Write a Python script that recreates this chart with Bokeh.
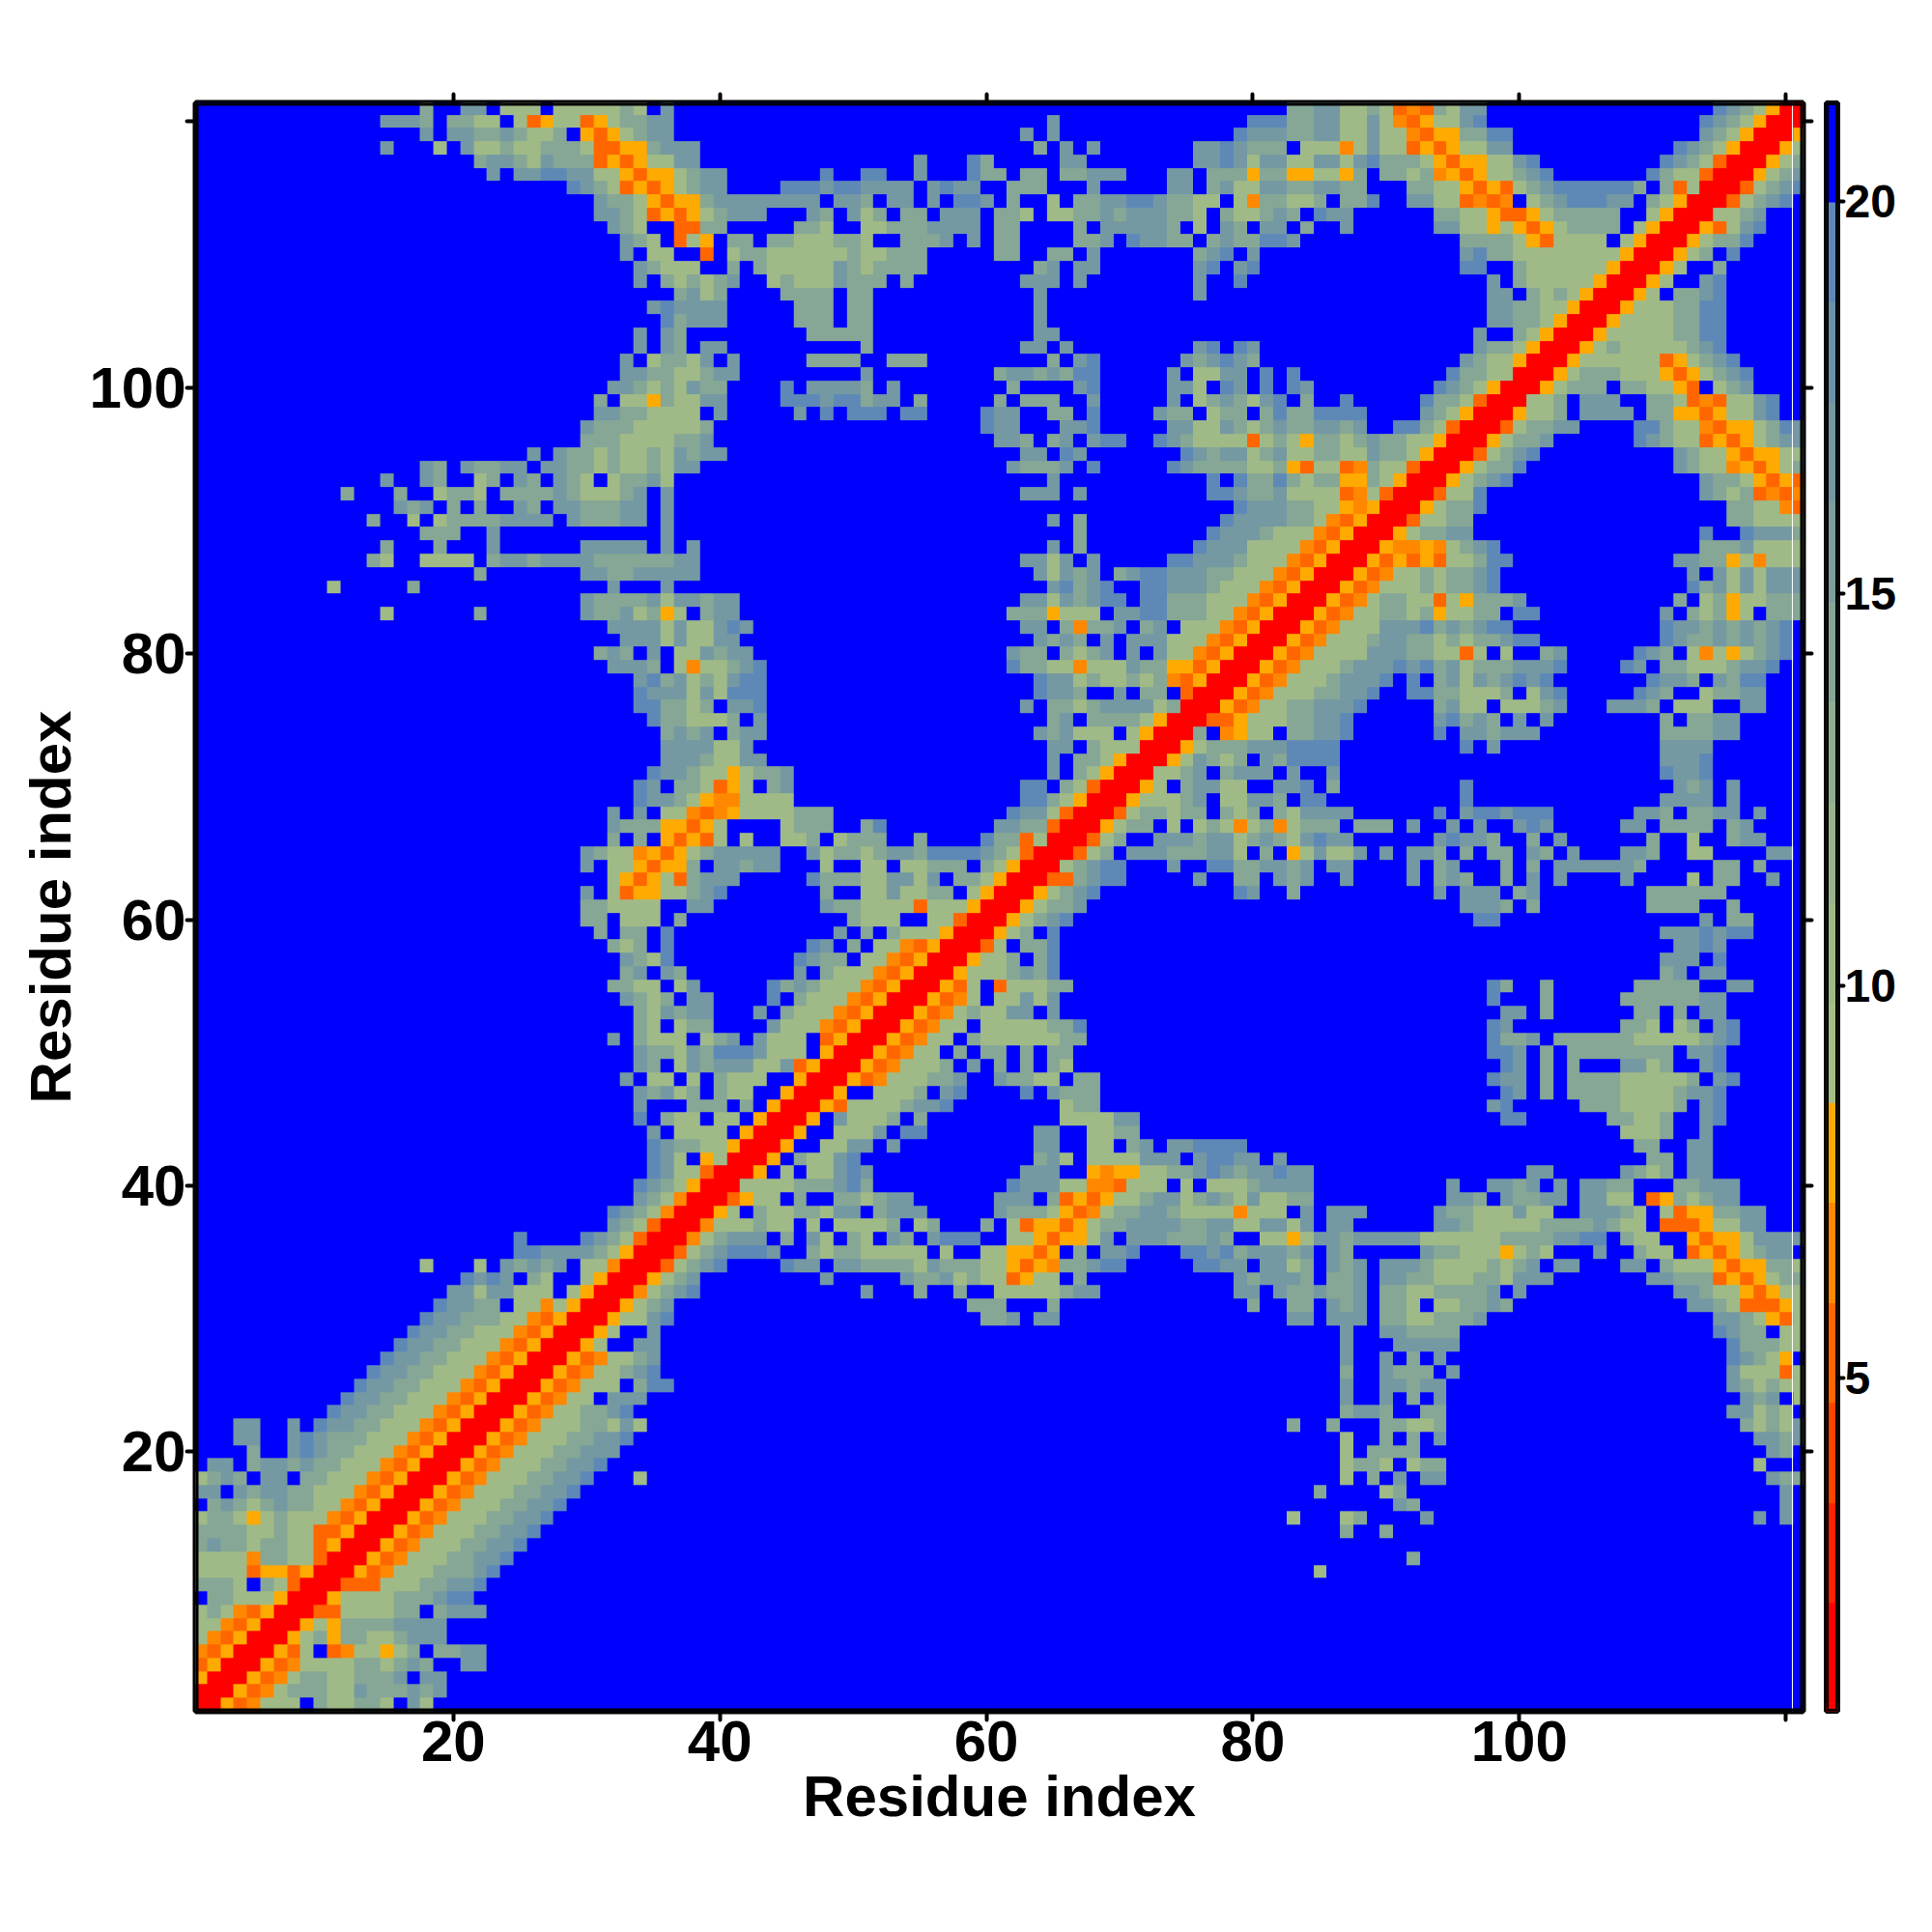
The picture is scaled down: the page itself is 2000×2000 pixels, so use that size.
import numpy as np
from bokeh.plotting import figure
from bokeh.layouts import row
from bokeh.models import LinearColorMapper, LinearAxis, FixedTicker, Range1d, BoxAnnotation
from bokeh.embed import file_html
from bokeh.resources import INLINE

# Palette steps of the reference colour bar, low to high distance
bar_low = 0.85
bar_high = 21.25
bar_floor = 0.75
palette = ["#FF0000", "#FF2200", "#FF4400", "#FF6600", "#FF8800", "#FFAA00",
           "#A5BE83", "#A0BA87", "#98B48C", "#8FAE90", "#86A795", "#7D9F9C",
           "#7499A3", "#6B92AB", "#5E89B6", "#0000FF"]
level_values = {"R": 1.5, "O": 5.3, "o": 6.5, "a": 7.8, "g": 10.4, "t": 13.9,
                "s": 17.0, "b": 19.3, ".": 21.0}
n_residues = 121
tick_values = [20, 40, 60, 80, 100, 120]
bar_ticks = [5, 10, 15, 20]

# Lower triangle, "first_column:cells" per row (rows 1..121)
contact_rows = [
"1:RRaOoggg.tggttg.sg",
"2:RRaOogtttggstttsts",
"3:RRaOogttggttts.ss",
"4:RRaOoggggttgtst..ss",
"5:RRaOg.Ooggagt.ttss",
"6:RRagtattggtsss",
"7:RRagattttssss",
"8:RROOggggtt.tsss",
"9:RRaggggtttsbb",
"10:RROOOgggttssb",
"11:RRaOogggtttsb 85:g",
"12:RRaOogggttssb 92:t",
"13:RRaOogggttssb",
"14:RRaOogggttssb 87:t 90:t",
"15:RRaOogggttssb 83:g 87:gt 93:s 118:s 120:s",
"16:RRaOogggttssb 91:st 120:s",
"17:RRaOogggttssb 85:t 90:gt 120:s",
"18:RRaOogggttssb 34:g 87:g.t 91:s 93:ss 119:stt",
"19:RRaOogggttssb 87:gttg.gtt 118:g",
"20:RRaOogggttsss 87:g 89:tttt 119:st",
"21:RRaOogggttssb 87:g 90:t.t 94:s 118:ssts",
"22:RRaOogggttgsg 83:t 86:t 90:ttggt 117:tgtgs",
"23:RRaOoggttsb 87:tsst..tt 116:ssgtg",
"24:RRaOogg.sss 87:s 90:s.t.s 117:sts.g",
"25:RRaOoggg.tbb 87:s 90:sstss 116:stgtgg",
"26:RRaOoggtsb 87:t 90:sttt.s 116:sgggOg",
"27:RRaOoggts 87:s 90:s.t.s 116:bstga.",
"28:RRag..ss 87:s 91:sssss 116:btttgg",
"29:RRag..s 87:s 90:sstttt 115:bstt.gg",
"30:RRaggsb 60:tts.ss 83:ss 86:sss 90:ttggttts 115:sstgaOg",
"31:RRagts 59:ttt...t 80:t 83:tt.sts.ttg.ggttst 113:sstgOOOag",
"32:RRogtsb 51:s 55:t 58:t 61:gggggtss 79:ss.sttstts.ttggtttts.s 112:sstggaOagg",
"33:RRagts 48:s 54:sttsgtggOagg.t 79:stssst.tts.ssttgggttgsss 110:sstttOaOagtt",
"34:RROgtsb 45:bss.ssttttgstttggaOaottsbb 76:bbss.ssgt.sts.ssstggggtgts.ss 108:ss.tgggaOaattg",
"35:RROgtsbbbs..tgttggggg.g..ggaaOa.t.ssb 75:bbsbtsssts.st.....sttgggagtg...s..tgg.OaOagtss",
"36:RRogtsss.t.sg.tg.st.sbbb..ggaOaags.ssstttst..ggagsstsssssggggggttttssbb.tgg..aOaagssss",
"37:RRogggtgg.g.ggggt.gt 60:t.gOaaOagttssssttssggssgs 86:ss 94:sstgggggttttstgg.OOOaggss",
"38:RRag.tggttgss.tsss 61:stttgaOogttsstggggoggg.s 86:sss 94:sttgggsgg 105:ssstg.gOaattss",
"39:RROagg.t..ttgtss 61:sss.tOaOaggtssgtstgsggtt 95:sst.sttss.ssgg.Oatgtss",
"40:RRggggtttsbt 62:bsssggooOggg.g.gggtssss 95:s 98:ssts.s 105:sstt 112:ttsss",
"41:RRa.g.ggsbs 63:sss..aoaaggttsbstssbss 101:ss 108:stgt 113:ss",
"42:RRa.tggsb 64:tsg.ggggsss.sbbss.s 110:tt 113:ss",
"43:RRa..ggss.s 64:ss 68:gg.ts.ssbbbb 109:tt 113:ss",
"44:RRa..gggs.bb 64:ss 68:ggtt 108:gggt 114:s",
"45:RRa.sgggt.t 66:ggggss 99:bb 107:ttggt 114:sb",
"46:RRaOggggtssb 66:gtt 98:sb 105:tttggggt.sb",
"47:RRa..gggt.sb 63:b.sttt 99:bs 102:t.ttttggggtssb",
"48:RRaOogggtts 61:sttgg.tt 98:bss 102:t.ttttgggggt.sb",
"49:RRaOogggt.s.t.t.tg 99:bs 102:t.t 108:ssgt..sb",
"50:RRaOogg.t.tt.t.tt 98:bbs.t.tttttttt.ssb",
"51:RRaOogg.tggggggtt 98:btts.ttttttgggggtsb",
"52:RRaOogg.gggggttb 98:bs 108:ttg.gt.sb",
"53:RRaOogtggss.s 99:ss 102:t 109:tt.t.ss",
"54:RRaOog.ggsgs 98:b 102:t 108:ttttttss",
"55:RRaOg.Ogggtt 98:bt 102:t 109:ttttt 116:ss",
"56:RRagggtstb 111:ts.ss",
"57:RRaggt.tb 111:sss.b",
"58:RROg.ttb 112:ssbs",
"59:RRagt.b 111:sssbsbb",
"60:RRagtsb 97:bb 114:s 116:tt",
"61:RRagtts 96:ssst.t 110:tttt 116:t",
"62:RRagtsb 79:bs 83:t 94:s 96:sss 100:ts 110:tttttt",
"63:RROOtsbb 76:s 79:tt 82:sts 87:s 92:s 94:tst 99:t 101:s 103:s 108:s 113:g 115:tt 119:s",
"64:RRgtsbb 74:s 77:bbttssts 86:ss 92:s 94:ts 99:t 101:t 103:sssssst 115:tt 118:t",
"65:RROgt.ssstttssg.t.agsggs 90:s 92:sst.t.tt.st.s 108:sst 113:gg 119:ss",
"66:RROgt..ssstssgtstgsbss 94:sbsst..t.s 110:t 113:g 116:tss",
"67:RRagtt.g.gtgogtogttt.ttt 92:s 95:s.s..sbs 108:ss.tttt 116:ts",
"68:RROgttgtt.tgt.tgssss 94:b 96:sbbsbbb 109:sst.ttss 118:s",
"69:RRagggts.ggsst.bb 96:b 111:ssss 116:s",
"70:RRag.tssgg..ssb.t 96:b 112:sts 116:s",
"71:RRggts.tsss.s..s 111:bssb",
"72:RRagstgt.stbbbb 111:sssb",
"73:RRagtttsssbbbb 96:b.s 111:ssss",
"74:RRt.oagg.ttssb 94:b 96:sstsss 111:ttttss",
"75:RROOagggttssb 94:sbtst.s.s 111:t.ttss",
"76:RRaOoggttsssb 94:tsgg.gggts 107:ssst.ggg..ss",
"77:RRaOogggttssb 92:bbttgggt.gsb 109:bst..gttss",
"78:RRaOogggtsssb.b.tsgstsbsb 110:bsst.stbb",
"79:RRaOogggtsssbsbtsgtttsssb 108:bs.ttgggtssb",
"80:RRaOoggggsssttggOg.g..ts 109:bst.gogagtsb",
"81:RRaOogggtssttgtgttsbb 111:bsttststsb",
"82:RRaOogggsssbtstsbb 111:bsstststsb",
"83:RRaOoggttgtaggtt.bb 111:s.tgtag.ttt",
"84:RRaOogttggOgattts 112:t.gtaggttt",
"85:RRaOogggtgttsb 113:btsgsgsss",
"86:RRaOoggtgttsb 113:s.sgsgsss",
"87:RRaOaOaOggtbb 112:ssttagoggg",
"88:RRaooaogtsb 114:tttsgggg",
"89:RRagttss 114:b..bssst",
"90:RROggtt 116:ttgggg",
"91:RRagttb 116:ttggoO",
"92:RROggb 114:stgtOoOo",
"93:RRagtsb 114:sttgaOaO",
"94:RRagttb 112:stggoaOagt",
"95:RROgtsb 112:stggaOaagg",
"96:RRagtts 109:bstggOaOagtss",
"97:RROgttss 109:bbtggoOaagtbs",
"98:RRaggt.ssss.ttaaOaggsb",
"99:RRggt.sss..ttgOoOggsb",
"100:RRagttt.ttggaO.gts",
"101:RRagtttgggaOagtsb",
"102:RRaggggggOagtsb",
"103:RRagtgggggtsb",
"104:RRagggggttbb",
"105:RRaggggttbb",
"106:RRagggttbb",
"107:RRag.ttsb",
"108:RRag..sb",
"109:RRag..t",
"110:RRagt.b",
"111:RRagttb",
"112:RRaOgsb",
"113:RRggts",
"114:RROgtsb",
"115:RROgtsb",
"116:RRagts",
"117:RRagt",
"118:RRag",
"119:RRa",
"120:RR",
"121:R",
]

Z = np.full((n_residues, n_residues), level_values["."], dtype=float)
for r, text in enumerate(contact_rows):
    for token in text.split():
        start, cells = token.split(":")
        for k, ch in enumerate(cells):
            c = int(start) - 1 + k
            if c < n_residues:
                Z[r, c] = level_values[ch]
                Z[c, r] = level_values[ch]

mapper = LinearColorMapper(palette=palette, low=bar_low, high=bar_high)
FONT = "Liberation Sans"

p = figure(width=1882, height=1990, frame_width=1664, frame_height=1665,
           x_range=Range1d(0.65, 121.3), y_range=Range1d(0.49, 121.4),
           output_backend="svg", toolbar_location=None,
           min_border_left=202, min_border_right=16, min_border_top=106, min_border_bottom=219,
           x_axis_label="Residue index", y_axis_label="Residue index")
p.image(image=[Z], x=0.5, y=0.5, dw=n_residues, dh=n_residues, color_mapper=mapper)
p.segment(x0=[120.5], y0=[0.49], x1=[120.5], y1=[121.4], line_color="white", line_width=1)
p.grid.visible = False
p.outline_line_color = "black"
p.outline_line_width = 6
p.background_fill_color = "white"
p.add_layout(BoxAnnotation(left=p.x_range.start, right=p.x_range.end,
                           bottom=p.y_range.start, top=p.y_range.end,
                           fill_color=None, line_color="black", line_width=6,
                           line_alpha=1, level="overlay"))

for side in ("above", "right"):
    p.add_layout(LinearAxis(ticker=FixedTicker(ticks=tick_values), major_label_text_font_size="0px",
                            major_label_text_color=None), side)

for ax in p.below + p.left + p.above + p.right:
    ax.axis_line_color = None
    ax.major_tick_line_color = "black"
    ax.major_tick_line_width = 4
    ax.major_tick_line_cap = "round"
    ax.major_tick_out = 9
    ax.major_tick_in = 0
    ax.minor_tick_line_color = None

for ax in (p.below[0], p.left[0]):
    ax.ticker = FixedTicker(ticks=tick_values)
    ax.major_label_overrides = {120: ""}
    ax.major_label_text_font = FONT
    ax.major_label_text_font_style = "bold"
    ax.major_label_text_font_size = "60px"
    ax.major_label_text_color = "black"
    ax.axis_label_text_font = FONT
    ax.axis_label_text_font_style = "bold"
    ax.axis_label_text_font_size = "60px"
    ax.axis_label_text_color = "black"
p.below[0].major_label_standoff = 1
p.below[0].axis_label_standoff = 0
p.left[0].major_label_standoff = 1
p.left[0].axis_label_standoff = 3

q = figure(width=100, height=1990, frame_width=12, frame_height=1665,
           x_range=Range1d(0, 1), y_range=Range1d(bar_floor, bar_high),
           output_backend="svg", toolbar_location=None,
           min_border_left=8, min_border_right=80, min_border_top=106, min_border_bottom=219,
           x_axis_location=None, y_axis_location="right")
bar_values = np.array([[bar_low + (bar_high - bar_low) * (i + 0.5) / 16] for i in range(16)])
q.image(image=[bar_values], x=0, y=bar_low, dw=1, dh=bar_high - bar_low, color_mapper=mapper)
q.quad(left=[0], right=[1], bottom=[bar_floor], top=[bar_low], color=palette[0])
q.grid.visible = False
q.outline_line_color = "black"
q.outline_line_width = 5
q.add_layout(BoxAnnotation(left=0, right=1, bottom=bar_floor, top=bar_high,
                           fill_color=None, line_color="black", line_width=5,
                           line_alpha=1, level="overlay"))
ax = q.yaxis[0]
ax.ticker = FixedTicker(ticks=bar_ticks)
ax.axis_line_color = None
ax.major_tick_line_color = "black"
ax.major_tick_line_width = 4
ax.major_tick_line_cap = "round"
ax.major_tick_out = 6
ax.major_tick_in = 0
ax.minor_tick_line_color = None
ax.major_label_standoff = 1
ax.major_label_text_font = FONT
ax.major_label_text_font_style = "bold"
ax.major_label_text_font_size = "48px"
ax.major_label_text_color = "black"

layout = row(p, q, spacing=0)
open("out.html", "w").write(file_html(layout, INLINE))
